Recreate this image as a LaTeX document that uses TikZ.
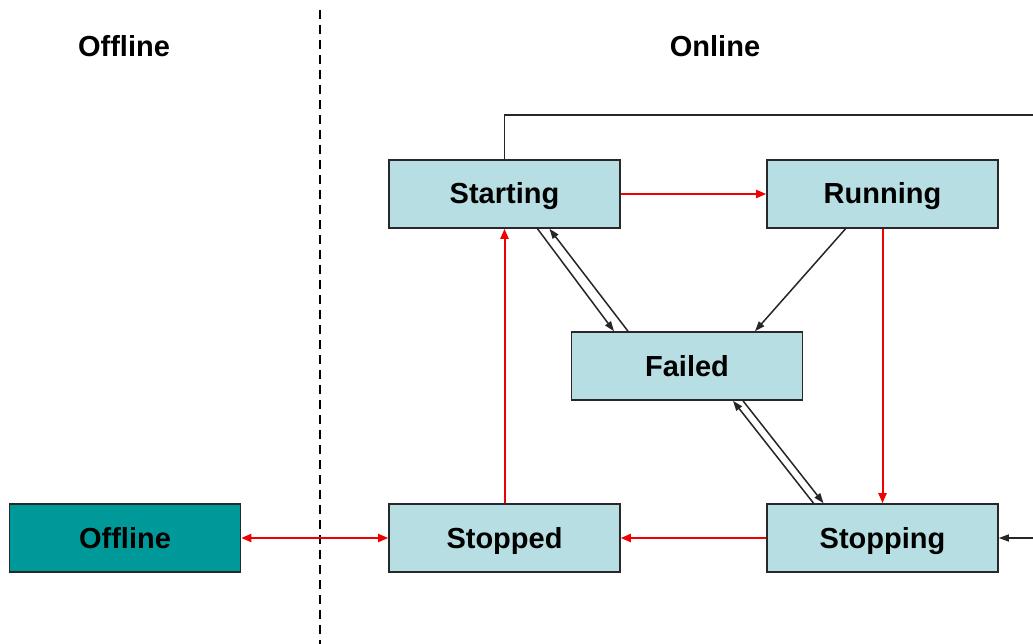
\documentclass[tikz,border=0pt]{standalone}
\usepackage{fontspec}
\setmainfont{Liberation Sans}
\usetikzlibrary{arrows.meta}
\definecolor{boxfill}{RGB}{183,222,226}
\definecolor{offfill}{RGB}{0,153,153}
\definecolor{boxline}{RGB}{40,40,40}
\definecolor{redline}{RGB}{240,0,0}
\tikzset{
  statebox/.style={draw=boxline, line width=1.6pt, fill=boxfill, minimum width=231pt, minimum height=68pt, inner sep=0pt, text height=24pt, text depth=4pt, font=\fontsize{29}{32}\selectfont\bfseries},
  offbox/.style={statebox, fill=offfill},
  hdr/.style={font=\fontsize{29}{32}\selectfont\bfseries, inner sep=0pt, text height=24pt, text depth=4pt},
  redarrow/.style={draw=redline, line width=2pt, -{Triangle[length=10pt,width=8pt]}},
  redboth/.style={draw=redline, line width=2pt, {Triangle[length=10pt,width=8pt]}-{Triangle[length=10pt,width=8pt]}},
  blackarrow/.style={draw=black!85, line width=1.5pt, -{Triangle[length=10pt,width=7pt]}},
}
\begin{document}
\begin{tikzpicture}[x=1pt,y=-1pt]
\useasboundingbox (0,0) rectangle (1033,644);
\begin{scope}
\clip (0,0) rectangle (1033,644);
\fill[white] (0,0) rectangle (1033,644);

\node[hdr] (hoff) at (124,47) {Offline};
\node[hdr] (hon) at (715,47) {Online};

\coordinate (dtop) at (320,10);
\coordinate (dbot) at (320,644);
\draw[black, line width=2.5pt, dash pattern=on 9pt off 6pt] (dtop) -- (dbot);

\node[statebox] (starting) at (504.5,194) {Starting};
\node[statebox] (running) at (882.5,194) {Running};
\node[statebox] (failed) at (687,366) {Failed};
\node[offbox] (offline) at (125,538) {Offline};
\node[statebox] (stopped) at (504.5,538) {Stopped};
\node[statebox] (stopping) at (882.5,538) {Stopping};

% red transitions
\draw[redarrow] (starting.east) -- (running.west);
\draw[redarrow] (running.south) -- (stopping.north);
\draw[redarrow] (stopping.west) -- (stopped.east);
\draw[redarrow] (stopped.north) -- (starting.south);
\draw[redboth] (offline.east) -- (stopped.west);

% black transitions
\draw[blackarrow] ([xshift=-37pt]running.south) -- ([xshift=68pt]failed.north);
\draw[blackarrow] ([xshift=33pt]starting.south) -- ([xshift=-73pt]failed.north);
\draw[blackarrow] ([xshift=-59pt]failed.north) -- ([xshift=45pt]starting.south);
\draw[blackarrow] ([xshift=-69pt]stopping.north) -- ([xshift=46pt]failed.south);
\draw[blackarrow] ([xshift=56pt]failed.south) -- ([xshift=-59pt]stopping.north);

% loop from Starting to Stopping around the right edge
\coordinate (loopr) at (1045,115);
\draw[blackarrow] (starting.north) |- (loopr) |- (stopping.east);
\end{scope}
\end{tikzpicture}
\end{document}
